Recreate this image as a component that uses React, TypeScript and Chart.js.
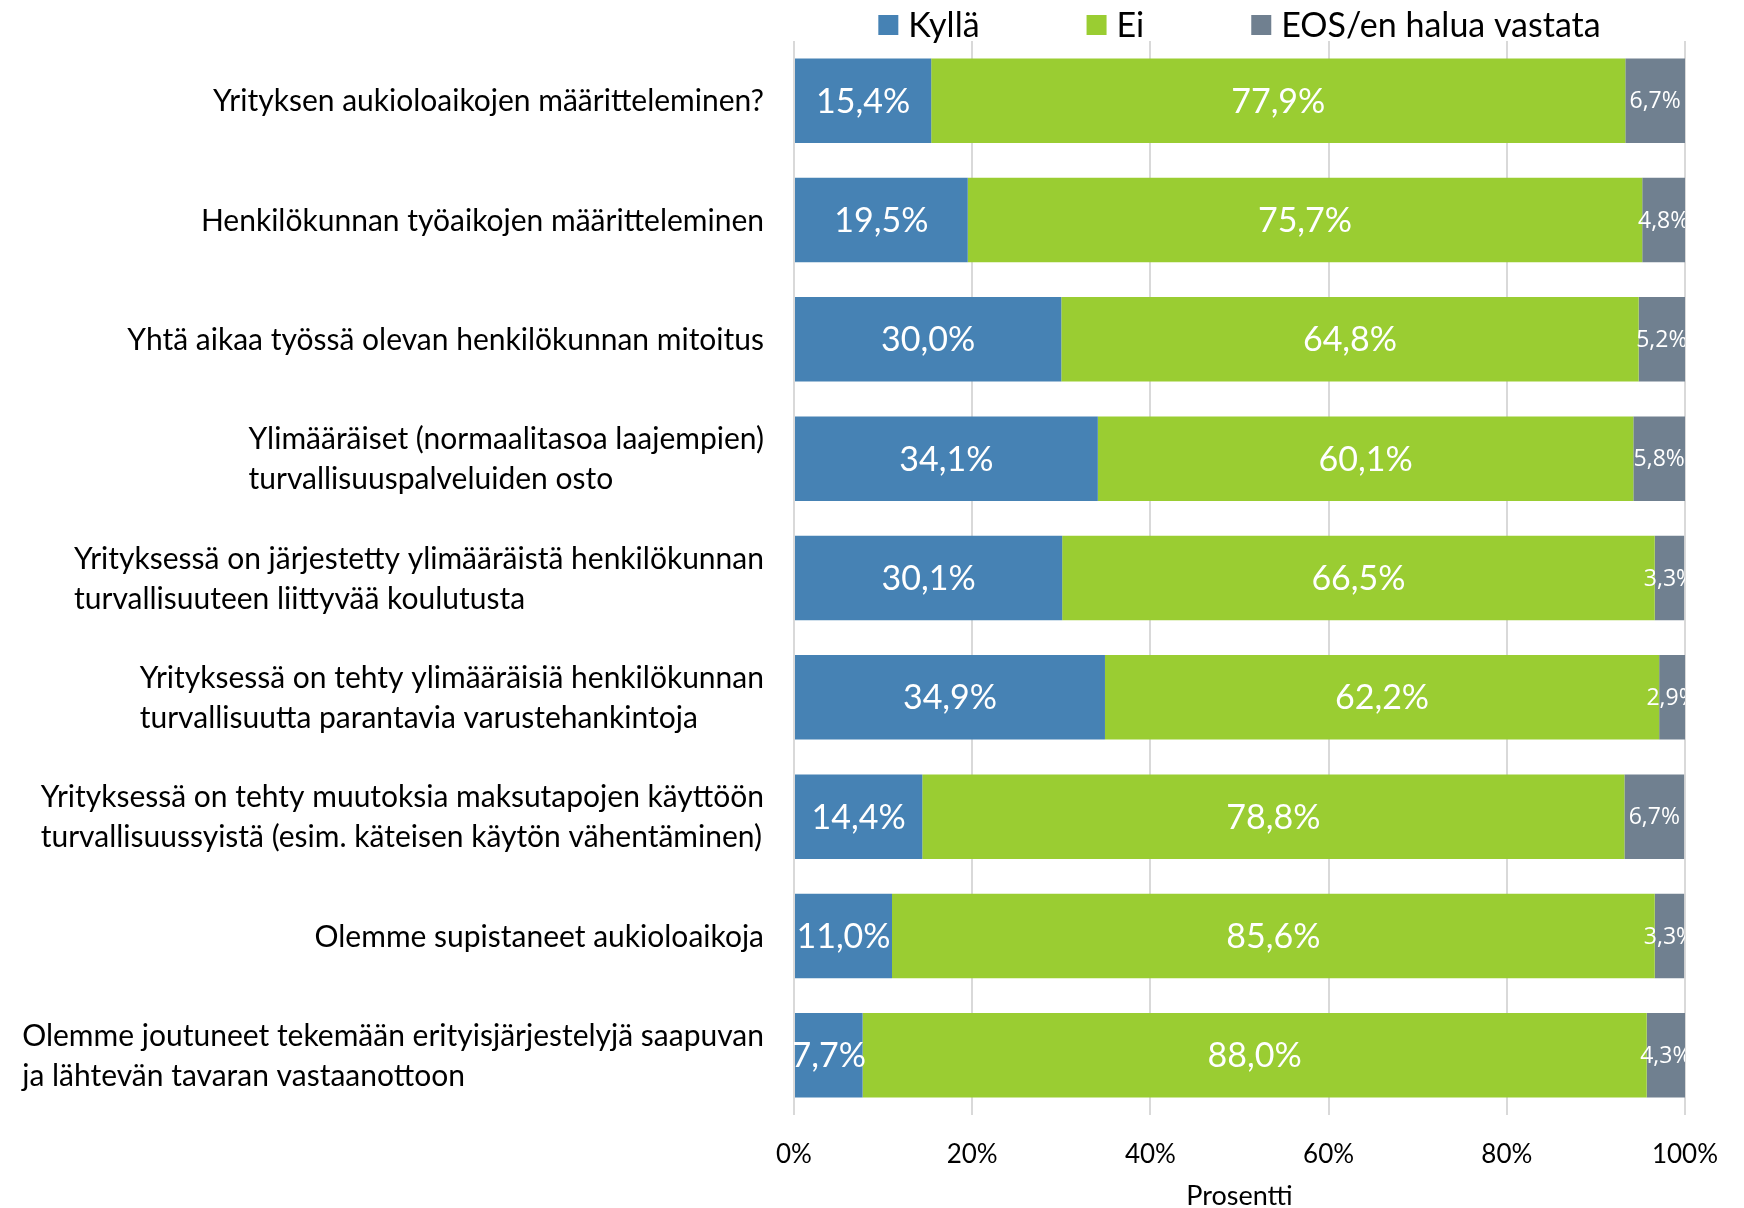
import React, { useEffect, useRef } from "react";
import { Chart, registerables } from "chart.js";

Chart.register(...registerables);

const categories: (string | string[])[] = [
  "Yrityksen aukioloaikojen määritteleminen?",
  "Henkilökunnan työaikojen määritteleminen",
  "Yhtä aikaa työssä olevan henkilökunnan mitoitus",
  ["Ylimääräiset (normaalitasoa laajempien)", "turvallisuuspalveluiden osto"],
  ["Yrityksessä on järjestetty ylimääräistä henkilökunnan", "turvallisuuteen liittyvää koulutusta"],
  ["Yrityksessä on tehty ylimääräisiä henkilökunnan", "turvallisuutta parantavia varustehankintoja"],
  ["Yrityksessä on tehty muutoksia maksutapojen käyttöön", "turvallisuussyistä (esim. käteisen käytön vähentäminen)"],
  "Olemme supistaneet aukioloaikoja",
  ["Olemme joutuneet tekemään erityisjärjestelyjä saapuvan", "ja lähtevän tavaran vastaanottoon"],
];

const kylla = [15.4, 19.5, 30.0, 34.1, 30.1, 34.9, 14.4, 11.0, 7.7];
const ei = [77.9, 75.7, 64.8, 60.1, 66.5, 62.2, 78.8, 85.6, 88.0];
const eos = [6.7, 4.8, 5.2, 5.8, 3.3, 2.9, 6.7, 3.3, 4.3];

const seriesNames = ["Kyllä", "Ei", "EOS/en halua vastata"];
const seriesColors = ["#4682B4", "#9ACD32", "#708090"];

const xTickValues = [0, 20, 40, 60, 80, 100];
const xTitle = "Prosentti";

const fmt = (v: number) => v.toFixed(1).replace(".", ",") + "%";

const labelPlugin = {
  id: "segLabels",
  afterDatasetsDraw(chart: any) {
    const { ctx, chartArea } = chart;
    ctx.save();
    ctx.beginPath();
    ctx.rect(chartArea.left, chartArea.top, chartArea.right - chartArea.left, chartArea.bottom - chartArea.top);
    ctx.clip();
    chart.data.datasets.forEach((ds: any, di: number) => {
      const meta = chart.getDatasetMeta(di);
      meta.data.forEach((el: any, i: number) => {
        const v = ds.data[i];
        const cx = (el.x + el.base) / 2;
        ctx.fillStyle = "#ffffff";
        ctx.textAlign = "center";
        ctx.textBaseline = "middle";
        ctx.font = di === 2 ? "23px 'Open Sans'" : "34px Lato";
        ctx.fillText(fmt(v), cx, el.y + 1);
      });
    });
    ctx.restore();
  },
};

// Category labels: block right-aligned to the axis, lines left-aligned within the block
const catLabelPlugin = {
  id: "catLabels",
  afterDraw(chart: any) {
    const { ctx, chartArea } = chart;
    const yScale = chart.scales.y;
    const lineH = 40;
    const gap = 30;
    ctx.save();
    ctx.font = "30px Lato";
    ctx.fillStyle = "#000000";
    ctx.textAlign = "left";
    ctx.textBaseline = "middle";
    (chart.data.labels as (string | string[])[]).forEach((lab, i) => {
      const lines = Array.isArray(lab) ? lab : [lab];
      const maxW = Math.max(...lines.map((l) => ctx.measureText(l).width));
      const x0 = chartArea.left - gap - maxW;
      const cy = yScale.getPixelForTick(i);
      lines.forEach((l, j) => {
        ctx.fillText(l, x0, cy + (j - (lines.length - 1) / 2) * lineH + 1);
      });
    });
    ctx.restore();
  },
};

const legendPlugin = {
  id: "customLegend",
  afterDraw(chart: any) {
    const { ctx, chartArea } = chart;
    ctx.save();
    ctx.font = "34px Lato";
    const box = 20;
    const boxGap = 10;
    const itemGap = 107;
    const widths = chart.data.datasets.map((d: any) => box + boxGap + ctx.measureText(d.label).width);
    const total = widths.reduce((a: number, b: number) => a + b, 0) + itemGap * (widths.length - 1);
    let x = (chartArea.left + chartArea.right) / 2 - total / 2;
    const cy = 25;
    chart.data.datasets.forEach((d: any, i: number) => {
      ctx.fillStyle = d.backgroundColor;
      ctx.fillRect(x, cy - box / 2, box, box);
      ctx.fillStyle = "#000000";
      ctx.textAlign = "left";
      ctx.textBaseline = "middle";
      ctx.fillText(d.label, x + box + boxGap, cy + 1);
      x += widths[i] + itemGap;
    });
    ctx.restore();
  },
};

export default function App() {
  const ref = useRef<HTMLCanvasElement>(null);
  useEffect(() => {
    document.body.style.margin = "0";
    const canvas = ref.current!;
    const chart = new Chart(canvas, {
      type: "bar",
      data: {
        labels: categories,
        datasets: [kylla, ei, eos].map((d, i) => ({
          label: seriesNames[i],
          data: d,
          backgroundColor: seriesColors[i],
          borderWidth: 0,
          barPercentage: 0.708,
          categoryPercentage: 1,
        })),
      },
      options: {
        indexAxis: "y",
        responsive: false,
        animation: false,
        devicePixelRatio: 1,
        layout: { padding: { left: 0, right: 59, top: 41, bottom: 0 } },
        plugins: {
          legend: { display: false },
          tooltip: { enabled: false },
        },
        scales: {
          x: {
            stacked: true,
            min: 0,
            max: 100,
            afterBuildTicks: (s: any) => {
              s.ticks = xTickValues.map((v) => ({ value: v }));
            },
            afterFit: (s: any) => {
              s.height = 93;
              s.paddingLeft = 0;
              s.paddingRight = 0;
            },
            grid: { color: "#d9d9d9", lineWidth: 2, drawTicks: false },
            border: { display: false },
            ticks: {
              color: "#000000",
              font: { family: "Lato", size: 26 },
              padding: 24,
              callback: (v: any) => v + "%",
            },
            title: {
              display: true,
              text: xTitle,
              color: "#000000",
              font: { family: "Lato", size: 27, lineHeight: 1 },
              padding: { top: 0, bottom: -2 },
            },
          },
          y: {
            stacked: true,
            afterFit: (s: any) => {
              s.width = 794;
              s.paddingTop = 0;
              s.paddingBottom = 0;
            },
            grid: { display: false, drawTicks: false },
            border: { display: false },
            ticks: {
              display: false,
              autoSkip: false,
            },
          },
        },
      },
      plugins: [labelPlugin, catLabelPlugin, legendPlugin],
    });
    return () => chart.destroy();
  }, []);
  return (
    <div style={{ width: 1744, height: 1208, background: "#fff" }}>
      <canvas ref={ref} width={1744} height={1208} style={{ display: "block" }} />
    </div>
  );
}
